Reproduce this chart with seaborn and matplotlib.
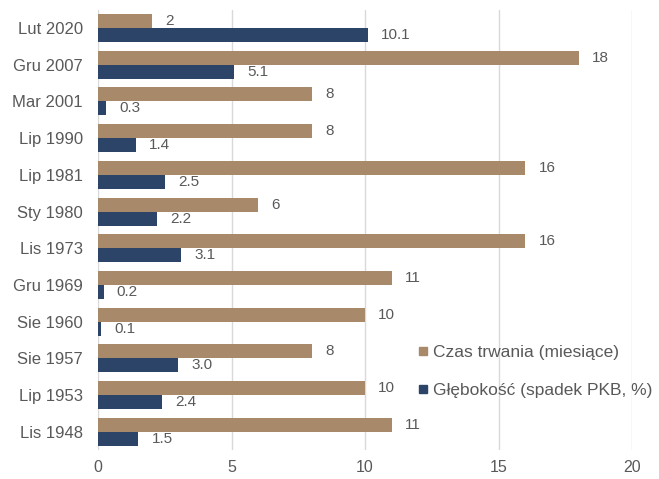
import matplotlib.pyplot as plt
from matplotlib.lines import Line2D
import pandas as pd
import seaborn as sns

recessions = ["Lut 2020", "Gru 2007", "Mar 2001", "Lip 1990", "Lip 1981", "Sty 1980",
              "Lis 1973", "Gru 1969", "Sie 1960", "Sie 1957", "Lip 1953", "Lis 1948"]
duration = [2, 18, 8, 8, 16, 6, 16, 11, 10, 8, 10, 11]
depth = [10.1, 5.1, 0.3, 1.4, 2.5, 2.2, 3.1, 0.2, 0.1, 3.0, 2.4, 1.5]
series = ["Czas trwania (miesiące)", "Głębokość (spadek PKB, %)"]
colors = ["#A8896A", "#2B4468"]

df = pd.DataFrame({
    "recesja": recessions * 2,
    "wartosc": duration + depth,
    "seria": [series[0]] * len(recessions) + [series[1]] * len(recessions),
})

sns.set_style("white")
plt.rcParams["font.family"] = ["Liberation Sans", "DejaVu Sans"]
text_color = "#595959"

fig = plt.figure(figsize=(6.59, 4.79), dpi=100)
ax = fig.add_axes([0.149, 0.06, 0.81, 0.92])

sns.barplot(data=df, y="recesja", x="wartosc", hue="seria", order=recessions,
            hue_order=series, palette=colors, width=0.76, orient="h",
            saturation=1, linewidth=0, ax=ax, legend=False)

labels = [[f"{v:.0f}" for v in duration], [f"{v:.1f}" for v in depth]]
for cont, txt in zip(ax.containers, labels):
    ax.bar_label(cont, labels=txt, padding=9.5, fontsize=11, color=text_color)

ax.set_xlim(0, 20)
ax.set_ylim(11.5, -0.5)
ax.set_xticks([0, 5, 10, 15, 20])
ax.grid(axis="x", color="#D9D9D9", linewidth=1)
ax.set_axisbelow(True)
sns.despine(ax=ax, left=True, bottom=True, top=True, right=True)
ax.axvline(0, color="#D9D9D9", linewidth=1.2, zorder=0.5)
ax.tick_params(axis="x", length=0, labelsize=11.5, colors=text_color, pad=7)
ax.tick_params(axis="y", length=0, labelsize=12, colors=text_color, pad=11)
ax.set_xlabel("")
ax.set_ylabel("")

handles = [Line2D([], [], marker="s", linestyle="none", markersize=6,
                  markerfacecolor=c, markeredgecolor=c) for c in colors]
leg = ax.legend(handles, series, loc="center left", bbox_to_anchor=(0.586, 0.179),
                frameon=False, fontsize=12.5, handlelength=0.6, handletextpad=0.25,
                labelspacing=1.3, borderaxespad=0)
for t in leg.get_texts():
    t.set_color(text_color)

fig.savefig("out.png", dpi=100)
